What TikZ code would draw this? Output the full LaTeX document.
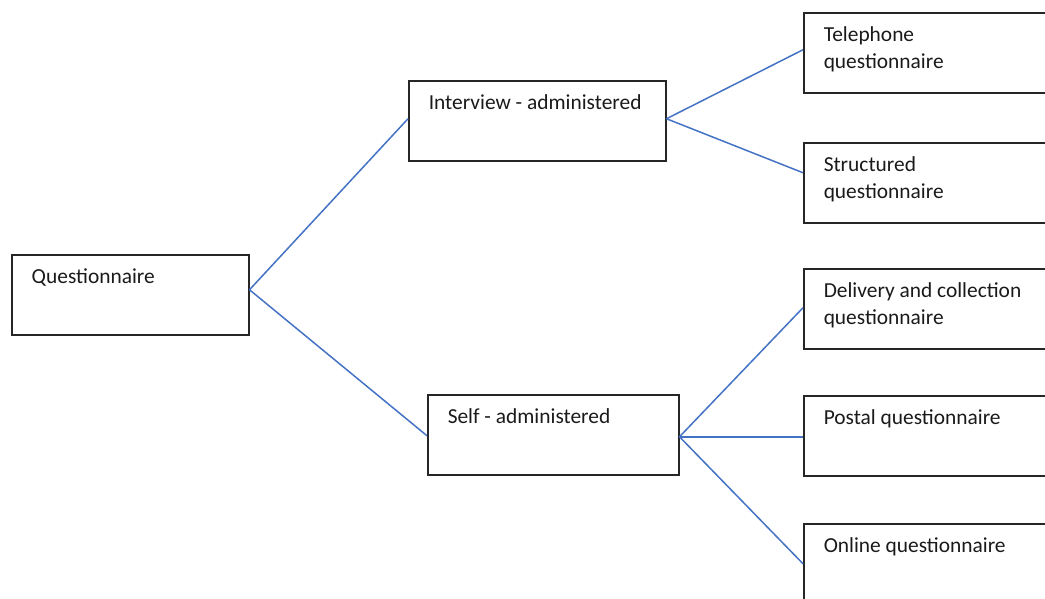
\documentclass[tikz,border=0pt]{standalone}
\usepackage{fontspec}
\setmainfont{Carlito}
\definecolor{linkblue}{HTML}{4472C4}
\definecolor{boxline}{HTML}{262626}
\definecolor{ink}{HTML}{1A1A1A}
% box contents: text set at the top-left of a fixed-height box
\newcommand{\boxtext}[2]{\parbox[c][80pt][t]{#1}{\raggedright\leftskip=20pt\rule{0pt}{29pt}#2\par}}
\tikzset{
  box/.style={draw=boxline, line width=1.5pt, inner sep=0pt, anchor=north west,
    minimum height=80pt, text=ink, font=\fontsize{21.4}{27}\selectfont},
  link/.style={draw=linkblue, line width=1.5pt}
}
\begin{document}
\begin{tikzpicture}[x=1pt,y=-1pt]
\useasboundingbox (0,0) rectangle (1045,598);
\clip (0,0) rectangle (1045,598);
% root
\node[box] (q) at (11,254) {\boxtext{237pt}{Questionnaire}};
% second level
\node[box] (i) at (408,80) {\boxtext{257pt}{Interview - administered}};
\node[box] (s) at (427,394) {\boxtext{251pt}{Self - administered}};
% leaves
\node[box] (t) at (803,12) {\boxtext{260pt}{Telephone\\questionnaire}};
\node[box] (st) at (803,142) {\boxtext{260pt}{Structured\\questionnaire}};
\node[box] (d) at (803,268) {\boxtext{260pt}{Delivery and collection\\questionnaire}};
\node[box] (p) at (803,395) {\boxtext{260pt}{Postal questionnaire}};
\node[box] (o) at (803,523) {\boxtext{260pt}{Online questionnaire}};
% connectors
\draw[link] ([yshift=5pt]q.east) -- ([yshift=2pt]i.west);
\draw[link] ([yshift=5pt]q.east) -- ([yshift=-1pt]s.west);
\draw[link] ([yshift=2pt]i.east) -- ([yshift=3pt]t.west);
\draw[link] ([yshift=2pt]i.east) -- ([yshift=10pt]st.west);
\draw[link] ([yshift=-2pt]s.east) -- ([yshift=1pt]d.west);
\draw[link] ([yshift=-2pt]s.east) -- ([yshift=-1pt]p.west);
\draw[link] ([yshift=-2pt]s.east) -- (o.west);
\end{tikzpicture}
\end{document}
